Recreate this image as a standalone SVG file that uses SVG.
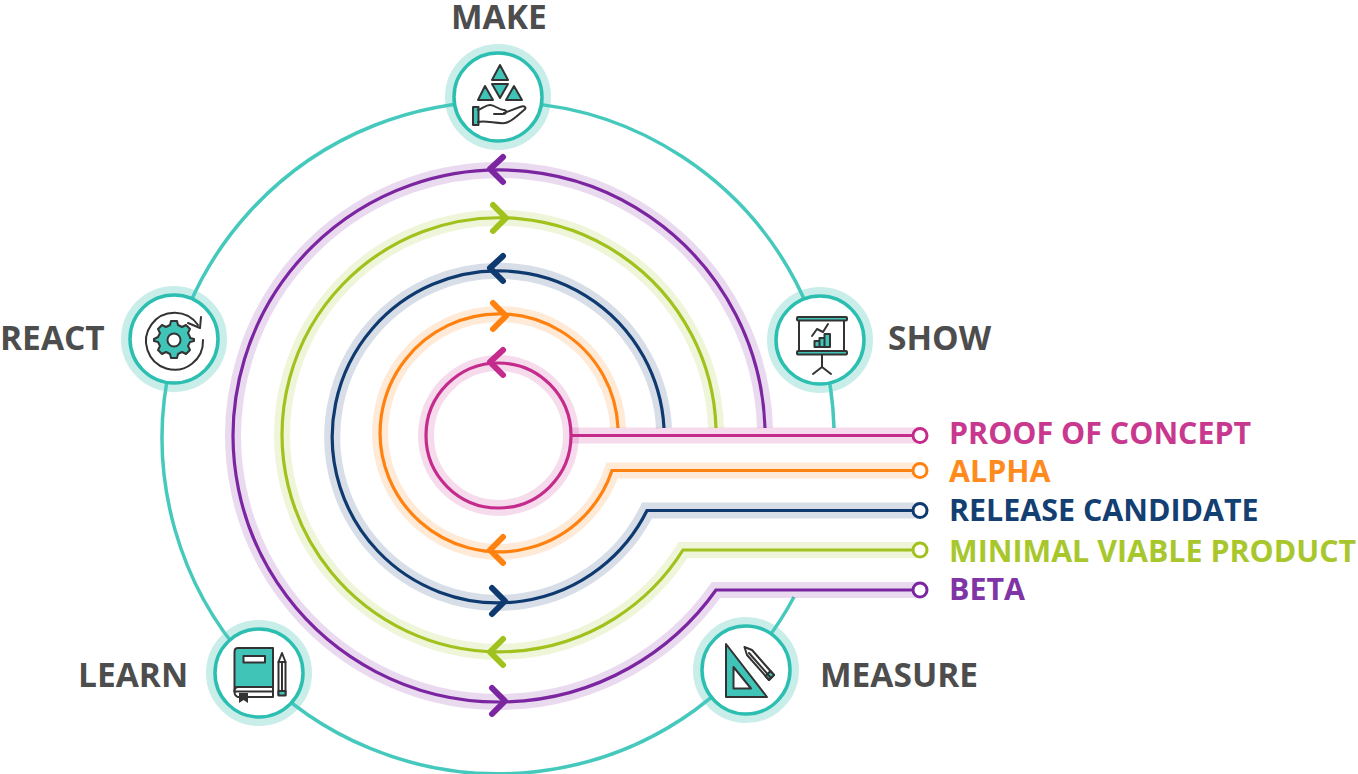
<svg xmlns="http://www.w3.org/2000/svg" width="1358" height="774" viewBox="0 0 1358 774">
<style>
.t{font-family:"Open Sans","Liberation Sans",sans-serif;font-weight:700}
.n{font-size:33.500px;fill:#4d4d4d}
.l{font-size:30.400px}
.ring{fill:none;stroke:#46c9bd;stroke-width:3.500}
.halo{fill:#fff;stroke:#c9eeea;stroke-width:9}
.disc{fill:#fff;stroke:#2cbfb1;stroke-width:3.500}
.k{fill:none;stroke:#333;stroke-width:2;stroke-linejoin:round;stroke-linecap:round}
.f{fill:#40c4b8;stroke:#333;stroke-width:2;stroke-linejoin:round}
.w{fill:#fff;stroke:#333;stroke-width:2;stroke-linejoin:round}
.h{fill:none;stroke-width:16;opacity:.17}
.m{fill:none;stroke-width:3.200}
.a{fill:none;stroke-width:6;stroke-linecap:round;stroke-linejoin:round}
.d{fill:#fff;stroke-width:3}
</style>
<g id="halos">
<circle class="halo" cx="498" cy="97" r="48.500"/>
<circle class="halo" cx="820" cy="340" r="48.500"/>
<circle class="halo" cx="174" cy="339" r="48.500"/>
<circle class="halo" cx="259" cy="673" r="48.500"/>
<circle class="halo" cx="746" cy="670" r="48.500"/>
</g>
<g id="connectors">
<path class="ring" d="M794 597A336 336 0 1 1 834 428"/>
<g id="beta" stroke="#7b26a0">
<path class="h" d="M920 590H716A266 266 0 1 1 765 428"/>
<path class="m" d="M920 590H716A266 266 0 1 1 765 428"/>
<path class="a" d="M503 157L490 169L503 182M492 688L505 701L492 714"/>
<circle class="d" cx="920" cy="590" r="7"/>
</g>
<g id="mvp" stroke="#a1c11c">
<path class="h" d="M920 550H683A217 217 0 1 1 716 428"/>
<path class="m" d="M920 550H683A217 217 0 1 1 716 428"/>
<path class="a" d="M493 205L506 218L493 231M503 639L490 652L503 665"/>
<circle class="d" cx="920" cy="550" r="7"/>
</g>
<g id="rc" stroke="#0f3a70">
<path class="h" d="M920 510.500H647A166 166 0 1 1 664 428"/>
<path class="m" d="M920 510.500H647A166 166 0 1 1 664 428"/>
<path class="a" d="M503 256L490 268L503 281M492 588L505 601L492 614"/>
<circle class="d" cx="920" cy="510.500" r="7"/>
</g>
<g id="alpha" stroke="#ff8210">
<path class="h" d="M920 470.500H612A119 119 0 1 1 618 428"/>
<path class="m" d="M920 470.500H612A119 119 0 1 1 618 428"/>
<path class="a" d="M493 303L506 316L493 329M503 537L490 550L503 563"/>
<circle class="d" cx="920" cy="470.500" r="7"/>
</g>
<g id="poc" stroke="#c42b8c">
<path class="h" d="M920 435.500H571"/><circle class="h" cx="498.500" cy="435.500" r="72.500"/>
<path class="m" d="M920 435.500H571"/><circle class="m" cx="498.500" cy="435.500" r="72.500"/>
<path class="a" d="M503 350L490 362L503 375"/>
<circle class="d" cx="920" cy="435.500" r="7"/>
</g>
</g>
<g id="make">
<circle class="disc" cx="498" cy="97" r="44"/>
<path class="f" d="M500 65L508 80H492ZM492 84H508L500 98ZM485 86L493 100H478ZM514 86L522 100H506Z"/>
<rect class="f" x="473" y="107" width="5.500" height="18"/>
<path class="k" d="M478 110C483 108 486 105 490 105C495 105 499 110 504 110C507 110 507 114 503 114H494M504 113L520 107C525 105 527 108 524 110C518 115 512 122 505 123C497 124 485 120 478 122"/>
<text class="t n" x="451" y="29">MAKE</text>
</g>
<g id="show">
<circle class="disc" cx="820" cy="340" r="44"/>
<rect class="w" x="799" y="320" width="45" height="31"/>
<rect class="f" x="797" y="317" width="50" height="3.500" rx="1"/>
<rect class="f" x="797" y="351" width="50" height="3.500" rx="1"/>
<path class="k" d="M822 355V367M813 374L822 367L831 374M812 336L817 329L823 332L828 324"/>
<path class="f" d="M814.500 341H819.500V347H814.500ZM819.500 338H824.500V347H819.500ZM824.500 334H830V347H824.500Z"/>
<text class="t n" x="888" y="350">SHOW</text>
</g>
<g id="react">
<circle class="disc" cx="174" cy="339" r="44"/>
<path class="k" d="M203 340A28.500 28.500 0 1 1 198 325M188 323L200 328L201 317"/>
<path class="f" d="M171 323H177L178 327L182 329L186 327L190 331L188 335L190 339L190 340L194 341V343L190 344L188 348L190 352L186 356L182 354L178 356L177 360H171L170 356L166 354L162 356L158 352L160 348L158 344L154 343V341L158 339L160 335L158 331L162 327L166 329L170 327Z" transform="translate(0 -2)"/>
<circle class="w" cx="174" cy="340" r="6.500"/>
<text class="t n" x="0" y="350">REACT</text>
</g>
<g id="learn">
<circle class="disc" cx="259" cy="673" r="44"/>
<path class="f" d="M238 648H273V687H238Q234.500 687 234.500 691V652Q234.500 648 238 648Z"/>
<path class="w" d="M273 687H238Q234.500 687 234.500 691.500T238 697H273Z"/>
<path d="M234.500 691.500H273" class="k"/>
<rect class="w" x="243.500" y="656" width="21.500" height="6.500"/>
<path d="M239 693H248V703L243.500 700L239 703Z" fill="#333"/>
<path class="w" d="M278.500 662L282 653L285.500 662V695H278.500Z"/>
<path class="k" d="M278.500 662H285.500M282 662V691"/>
<rect class="f" x="278.500" y="691" width="7" height="4.500"/>
<text class="t n" x="78" y="687">LEARN</text>
</g>
<g id="measure">
<circle class="disc" cx="746" cy="670" r="44"/>
<path class="f" d="M726 644V697H767ZM733.500 667V688.500H751Z" fill-rule="evenodd"/>
<path class="w" d="M744.500 647L752 650L774 675L769 680L747 655Z"/>
<path class="f" d="M774 675L769 680L765.500 676L770.500 671Z"/>
<path class="k" d="M749 653L771 678"/>
<text class="t n" x="820" y="687">MEASURE</text>
</g>
<g id="labels">
<text class="t l" x="949" y="444" fill="#c8388f">PROOF OF CONCEPT</text>
<text class="t l" x="949" y="482" fill="#ff8a1e">ALPHA</text>
<text class="t l" x="949" y="521" fill="#143f72">RELEASE CANDIDATE</text>
<text class="t l" x="949" y="562" fill="#a8c72c">MINIMAL VIABLE PRODUCT</text>
<text class="t l" x="949" y="600" fill="#7f35a5">BETA</text>
</g>
</svg>
